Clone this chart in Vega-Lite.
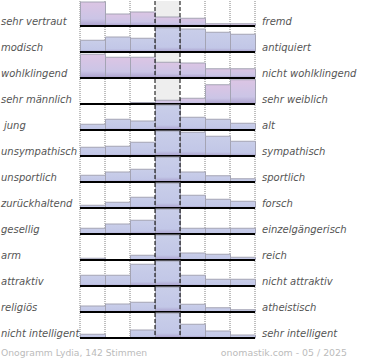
{
  "$schema": "https://vega.github.io/schema/vega-lite/v6.json",
  "autosize": {"type": "pad"},
  "padding": {"left": 1, "top": 0, "right": 0, "bottom": 0},
  "background": "white",
  "datasets": {
    "labels": [
      {"r": 1, "left": "sehr vertraut", "right": "fremd"},
      {"r": 2, "left": "modisch", "right": "antiquiert"},
      {"r": 3, "left": "wohlklingend", "right": "nicht wohlklingend"},
      {"r": 4, "left": "sehr männlich", "right": "sehr weiblich"},
      {"r": 5, "left": "jung", "right": "alt"},
      {"r": 6, "left": "unsympathisch", "right": "sympathisch"},
      {"r": 7, "left": "unsportlich", "right": "sportlich"},
      {"r": 8, "left": "zurückhaltend", "right": "forsch"},
      {"r": 9, "left": "gesellig", "right": "einzelgängerisch"},
      {"r": 10, "left": "arm", "right": "reich"},
      {"r": 11, "left": "attraktiv", "right": "nicht attraktiv"},
      {"r": 12, "left": "religiös", "right": "atheistisch"},
      {"r": 13, "left": "nicht intelligent", "right": "sehr intelligent"}
    ],
    "bars": [
      {"r": 1, "c": 0, "v": 96}, {"r": 1, "c": 1, "v": 48}, {"r": 1, "c": 2, "v": 56}, {"r": 1, "c": 3, "v": 36}, {"r": 1, "c": 4, "v": 31}, {"r": 1, "c": 5, "v": 9}, {"r": 1, "c": 6, "v": 9},
      {"r": 2, "c": 0, "v": 47}, {"r": 2, "c": 1, "v": 60}, {"r": 2, "c": 2, "v": 55}, {"r": 2, "c": 3, "v": 97}, {"r": 2, "c": 4, "v": 92}, {"r": 2, "c": 5, "v": 79}, {"r": 2, "c": 6, "v": 71},
      {"r": 3, "c": 0, "v": 95}, {"r": 3, "c": 1, "v": 83}, {"r": 3, "c": 2, "v": 83}, {"r": 3, "c": 3, "v": 63}, {"r": 3, "c": 4, "v": 60}, {"r": 3, "c": 5, "v": 37}, {"r": 3, "c": 6, "v": 37},
      {"r": 4, "c": 0, "v": 0}, {"r": 4, "c": 1, "v": 0}, {"r": 4, "c": 2, "v": 6}, {"r": 4, "c": 3, "v": 15}, {"r": 4, "c": 4, "v": 23}, {"r": 4, "c": 5, "v": 77}, {"r": 4, "c": 6, "v": 97},
      {"r": 5, "c": 0, "v": 23}, {"r": 5, "c": 1, "v": 43}, {"r": 5, "c": 2, "v": 36}, {"r": 5, "c": 3, "v": 100}, {"r": 5, "c": 4, "v": 51}, {"r": 5, "c": 5, "v": 43}, {"r": 5, "c": 6, "v": 27},
      {"r": 6, "c": 0, "v": 35}, {"r": 6, "c": 1, "v": 39}, {"r": 6, "c": 2, "v": 55}, {"r": 6, "c": 3, "v": 100}, {"r": 6, "c": 4, "v": 95}, {"r": 6, "c": 5, "v": 79}, {"r": 6, "c": 6, "v": 59},
      {"r": 7, "c": 0, "v": 27}, {"r": 7, "c": 1, "v": 40}, {"r": 7, "c": 2, "v": 51}, {"r": 7, "c": 3, "v": 100}, {"r": 7, "c": 4, "v": 40}, {"r": 7, "c": 5, "v": 25}, {"r": 7, "c": 6, "v": 13},
      {"r": 8, "c": 0, "v": 11}, {"r": 8, "c": 1, "v": 23}, {"r": 8, "c": 2, "v": 43}, {"r": 8, "c": 3, "v": 100}, {"r": 8, "c": 4, "v": 51}, {"r": 8, "c": 5, "v": 35}, {"r": 8, "c": 6, "v": 27},
      {"r": 9, "c": 0, "v": 23}, {"r": 9, "c": 1, "v": 40}, {"r": 9, "c": 2, "v": 55}, {"r": 9, "c": 3, "v": 100}, {"r": 9, "c": 4, "v": 23}, {"r": 9, "c": 5, "v": 23}, {"r": 9, "c": 6, "v": 23},
      {"r": 10, "c": 0, "v": 7}, {"r": 10, "c": 1, "v": 0}, {"r": 10, "c": 2, "v": 19}, {"r": 10, "c": 3, "v": 100}, {"r": 10, "c": 4, "v": 28}, {"r": 10, "c": 5, "v": 23}, {"r": 10, "c": 6, "v": 11},
      {"r": 11, "c": 0, "v": 43}, {"r": 11, "c": 1, "v": 43}, {"r": 11, "c": 2, "v": 87}, {"r": 11, "c": 3, "v": 100}, {"r": 11, "c": 4, "v": 43}, {"r": 11, "c": 5, "v": 27}, {"r": 11, "c": 6, "v": 27},
      {"r": 12, "c": 0, "v": 24}, {"r": 12, "c": 1, "v": 32}, {"r": 12, "c": 2, "v": 39}, {"r": 12, "c": 3, "v": 100}, {"r": 12, "c": 4, "v": 31}, {"r": 12, "c": 5, "v": 17}, {"r": 12, "c": 6, "v": 9},
      {"r": 13, "c": 0, "v": 15}, {"r": 13, "c": 1, "v": 0}, {"r": 13, "c": 2, "v": 32}, {"r": 13, "c": 3, "v": 100}, {"r": 13, "c": 4, "v": 55}, {"r": 13, "c": 5, "v": 28}, {"r": 13, "c": 6, "v": 12}
    ]
  },
  "data": {"name": "bars"},
  "transform": [
    {"lookup": "r", "from": {"data": {"name": "labels"}, "key": "r", "fields": ["left", "right"]}}
  ],
  "facet": {"row": {"field": "r", "type": "ordinal", "header": null, "sort": "ascending"}},
  "spacing": 0,
  "bounds": "flush",
  "spec": {
    "width": 175,
    "height": 26,
    "layer": [
      {
        "transform": [{"filter": "datum.c == 0"}],
        "mark": {"type": "rect", "fill": "#eeeeee"},
        "encoding": {
          "x": {"datum": 3, "type": "quantitative", "scale": {"domain": [0, 7], "nice": false, "zero": false}, "axis": null},
          "x2": {"datum": 4},
          "y": {"datum": -4, "type": "quantitative", "scale": {"domain": [-4, 100], "nice": false, "zero": false}, "axis": null},
          "y2": {"datum": 100}
        }
      },
      {
        "transform": [{"filter": "datum.c != 3 && datum.c != 4"}],
        "mark": {"type": "rule", "stroke": "#808080", "strokeWidth": 1, "strokeDash": [1, 1]},
        "encoding": {
          "x": {"field": "c", "type": "quantitative", "scale": {"domain": [0, 7], "nice": false, "zero": false}, "axis": null}
        }
      },
      {
        "transform": [{"filter": "datum.c == 0"}],
        "mark": {"type": "rule", "stroke": "#808080", "strokeWidth": 1, "strokeDash": [1, 1]},
        "encoding": {
          "x": {"datum": 7, "type": "quantitative", "axis": null}
        }
      },
      {
        "transform": [{"filter": "datum.r != 1 && datum.r != 3 && datum.r != 4"}],
        "mark": {
          "type": "rect",
          "stroke": "#a4a4b4",
          "strokeWidth": 1,
          "fill": {"gradient": "linear", "x1": 0, "y1": 0, "x2": 0, "y2": 1, "stops": [
            {"offset": 0, "color": "#c9cee9"},
            {"offset": 0.8, "color": "#c2c7e7"},
            {"offset": 1, "color": "#a99fcc"}
          ]}
        },
        "encoding": {
          "x": {"field": "c", "type": "quantitative", "bin": {"binned": true, "step": 1}, "scale": {"domain": [0, 7], "nice": false, "zero": false}, "axis": null},
          "y": {"field": "v", "type": "quantitative", "scale": {"domain": [-4, 100], "nice": false, "zero": false}, "axis": null},
          "y2": {"datum": 0}
        }
      },
      {
        "transform": [{"filter": "datum.r == 1 || datum.r == 3 || datum.r == 4"}],
        "mark": {
          "type": "rect",
          "stroke": "#a4a4b4",
          "strokeWidth": 1,
          "fill": {"gradient": "linear", "x1": 0, "y1": 0, "x2": 0, "y2": 1, "stops": [
            {"offset": 0, "color": "#dcc5e4"},
            {"offset": 0.7, "color": "#cbc5e6"},
            {"offset": 1, "color": "#a99fcc"}
          ]}
        },
        "encoding": {
          "x": {"field": "c", "type": "quantitative", "bin": {"binned": true, "step": 1}, "axis": null},
          "y": {"field": "v", "type": "quantitative", "axis": null},
          "y2": {"datum": 0}
        }
      },
      {
        "transform": [{"filter": "datum.c == 0"}],
        "mark": {"type": "rule", "stroke": "#000000", "strokeWidth": 2},
        "encoding": {
          "x": {"datum": 0, "type": "quantitative", "axis": null},
          "x2": {"datum": 7},
          "y": {"datum": 0, "type": "quantitative", "axis": null}
        }
      },
      {
        "transform": [{"filter": "datum.c == 3 || datum.c == 4"}],
        "mark": {"type": "rule", "stroke": "#000000", "strokeWidth": 1, "strokeDash": [4, 2]},
        "encoding": {
          "x": {"field": "c", "type": "quantitative", "axis": null}
        }
      },
      {
        "transform": [{"filter": "datum.c == 0 && datum.r != 5"}],
        "mark": {"type": "text", "align": "left", "baseline": "alphabetic", "font": "DejaVu Sans", "fontStyle": "italic", "fontSize": 10, "fill": "#555555"},
        "encoding": {
          "x": {"datum": -3.16, "type": "quantitative", "axis": null},
          "y": {"datum": 4, "type": "quantitative", "axis": null},
          "text": {"field": "left"}
        }
      },
      {
        "transform": [{"filter": "datum.c == 0 && datum.r == 5"}],
        "mark": {"type": "text", "align": "left", "baseline": "alphabetic", "font": "DejaVu Sans", "fontStyle": "italic", "fontSize": 10, "fill": "#555555", "dx": 3},
        "encoding": {
          "x": {"datum": -3.16, "type": "quantitative", "axis": null},
          "y": {"datum": 4, "type": "quantitative", "axis": null},
          "text": {"field": "left"}
        }
      },
      {
        "transform": [{"filter": "datum.c == 0"}],
        "mark": {"type": "text", "align": "left", "baseline": "alphabetic", "font": "DejaVu Sans", "fontStyle": "italic", "fontSize": 10, "fill": "#555555"},
        "encoding": {
          "x": {"datum": 7.28, "type": "quantitative", "axis": null},
          "y": {"datum": 4, "type": "quantitative", "axis": null},
          "text": {"field": "right"}
        }
      },
      {
        "transform": [{"filter": "datum.c == 0 && datum.r == 13"}],
        "mark": {"type": "text", "align": "left", "baseline": "alphabetic", "font": "DejaVu Sans", "fontSize": 9.2, "fill": "#bbbbbb"},
        "encoding": {
          "x": {"datum": -3.16, "type": "quantitative", "axis": null},
          "y": {"datum": -70, "type": "quantitative", "axis": null},
          "text": {"value": "Onogramm Lydia, 142 Stimmen"}
        }
      },
      {
        "transform": [{"filter": "datum.c == 0 && datum.r == 13"}],
        "mark": {"type": "text", "align": "right", "baseline": "alphabetic", "font": "DejaVu Sans", "fontSize": 9.4, "fill": "#bbbbbb"},
        "encoding": {
          "x": {"datum": 10.68, "type": "quantitative", "axis": null},
          "y": {"datum": -70, "type": "quantitative", "axis": null},
          "text": {"value": "onomastik.com - 05 / 2025"}
        }
      }
    ]
  },
  "config": {"view": {"stroke": null}}
}
